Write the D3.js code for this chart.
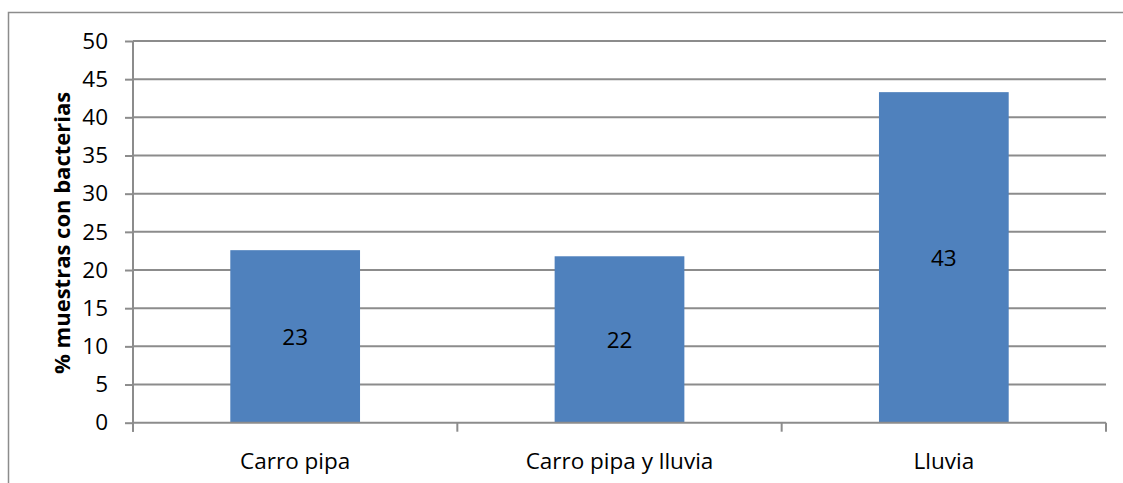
<!DOCTYPE html>
<html><head><meta charset="utf-8">
<script src="https://cdn.jsdelivr.net/npm/d3@7"></script>
<style>body{margin:0;background:#fff}svg{display:block}</style>
</head><body>
<svg id="c" width="1123" height="483"></svg>
<script>
const categories = ["Carro pipa", "Carro pipa y lluvia", "Lluvia"];
const values = [22.6, 21.8, 43.3];
const valueLabels = ["23", "22", "43"];
const yTicks = [0, 5, 10, 15, 20, 25, 30, 35, 40, 45, 50];
const yTitle = "% muestras con bacterias";

(function () {
const svg = d3.select("#c");
const font = "'Open Sans', Lato, sans-serif";
const fs = 22.5;
const pLeft = 133, pRight = 1106, pTop = 41, pBottom = 422.7;
const grid = "#8c8c8c";

svg.append("rect").attr("x", 8.5).attr("y", 12.5).attr("width", 1130).attr("height", 490)
  .attr("fill", "none").attr("stroke", "#8c8c8c").attr("stroke-width", 1.5);

const x = d3.scaleBand().domain(categories).range([pLeft, pRight]).paddingInner(0.6).paddingOuter(0.3);
const y = d3.scaleLinear().domain([0, 50]).range([pBottom, pTop]);

// gridlines
svg.append("g").selectAll("line").data(yTicks.filter(d => d > 0)).join("line")
  .attr("x1", pLeft).attr("x2", pRight).attr("y1", d => y(d)).attr("y2", d => y(d))
  .attr("stroke", grid).attr("stroke-width", 2);

// y axis
const yAxis = svg.append("g").attr("transform", `translate(${pLeft},0)`)
  .call(d3.axisLeft(y).tickValues(yTicks).tickSize(8).tickPadding(17).tickFormat(d3.format("d")));
yAxis.select(".domain").attr("stroke", grid).attr("stroke-width", 2).attr("d", `M0,${pTop}V${pBottom + 9}`);
yAxis.selectAll(".tick line").attr("stroke", grid).attr("stroke-width", 2);
yAxis.selectAll("text").attr("font-family", font).attr("font-size", fs).attr("fill", "#000");

// bars
svg.append("g").selectAll("rect").data(values).join("rect")
  .attr("x", (d, i) => x(categories[i])).attr("width", x.bandwidth())
  .attr("y", d => y(d)).attr("height", d => y(0) - y(d)).attr("fill", "#4F81BD");

// x axis
const xPos = [pLeft, ...categories.slice(0, 2).map(c => x(c) + x.bandwidth() + x.step() * x.paddingInner() / 2), pRight];
const xg = svg.append("g");
xg.append("line").attr("x1", pLeft).attr("x2", pRight).attr("y1", pBottom).attr("y2", pBottom)
  .attr("stroke", grid).attr("stroke-width", 2);
xg.selectAll("line.t").data(xPos).join("line").attr("class", "t")
  .attr("x1", d => d).attr("x2", d => d).attr("y1", pBottom).attr("y2", pBottom + 9)
  .attr("stroke", grid).attr("stroke-width", 2);
xg.selectAll("text").data(categories).join("text")
  .attr("x", d => x(d) + x.bandwidth() / 2).attr("y", 469)
  .attr("text-anchor", "middle").attr("font-family", font).attr("font-size", fs).attr("fill", "#000")
  .text(d => d);

// value labels
svg.append("g").selectAll("text").data(values).join("text")
  .attr("x", (d, i) => x(categories[i]) + x.bandwidth() / 2)
  .attr("y", d => (y(d) + y(0)) / 2 + 8.5)
  .attr("text-anchor", "middle").attr("font-family", font).attr("font-size", fs).attr("fill", "#000")
  .text((d, i) => valueLabels[i]);

// y title
svg.append("text").attr("transform", `translate(70,${(pTop + pBottom) / 2 + 1}) rotate(-90)`)
  .attr("text-anchor", "middle").attr("font-family", font).attr("font-size", 22).attr("font-weight", "bold")
  .attr("fill", "#000").text(yTitle);
})();
</script>
</body></html>
